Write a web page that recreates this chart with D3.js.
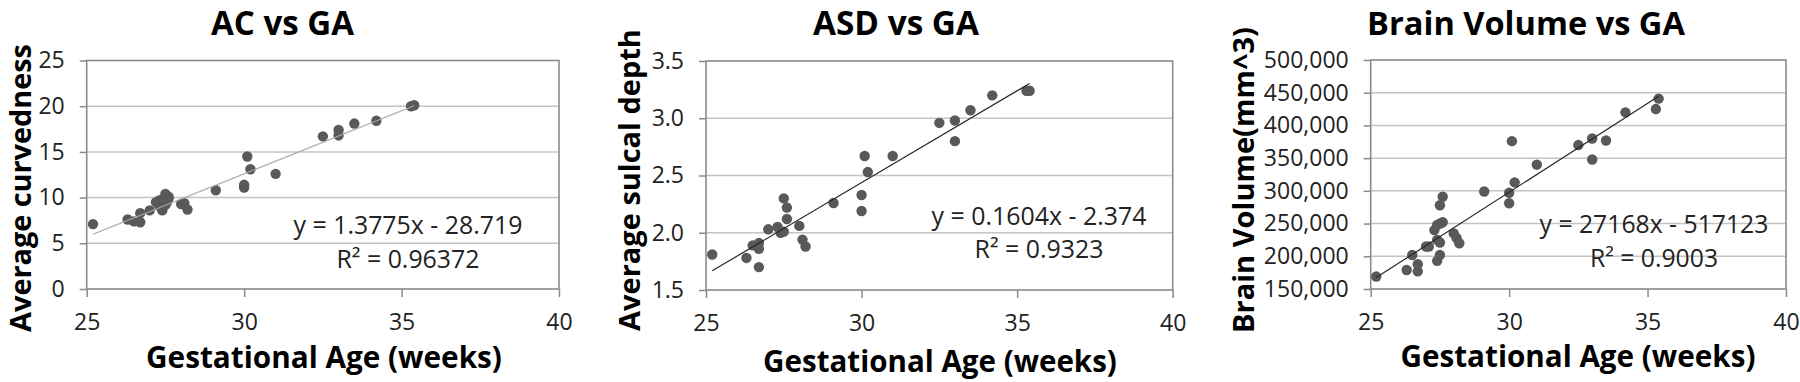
<!DOCTYPE html>
<html><head><meta charset="utf-8">
<script src="https://cdn.jsdelivr.net/npm/d3@7"></script>
<style>
html,body{margin:0;padding:0;background:#fff;}
svg{display:block;}
text{font-family:"Open Sans","Noto Sans",sans-serif;}
</style></head>
<body>
<svg id="c" width="1800" height="382"></svg>
<script>
// ---------- data ----------
const xTickValues = [25, 30, 35, 40];

// Panel 1: Average curvedness vs GA
const acGA  = [25.2, 26.3, 26.5, 26.7, 26.7, 27.0, 27.2, 27.3, 27.3, 27.4, 27.4, 27.5, 27.5, 27.55, 27.6, 27.6, 28.0, 28.1, 28.2, 29.1, 30.0, 30.0, 30.1, 30.2, 31.0, 32.5, 33.0, 33.0, 33.5, 34.2, 35.3, 35.4];
const acVal = [7.1, 7.6, 7.4, 8.3, 7.3, 8.6, 9.5, 9.7, 9.1, 8.6, 9.8, 10.4, 9.2, 9.5, 10.1, 9.9, 9.3, 9.4, 8.7, 10.8, 11.4, 11.1, 14.5, 13.1, 12.6, 16.7, 17.4, 16.8, 18.1, 18.4, 20.0, 20.1];
const acTicks = [0, 5, 10, 15, 20, 25];
const acFit = [1.3775, -28.719];
const acEq = ["y = 1.3775x - 28.719", "R\u00B2 = 0.96372"];

// Panel 2: Average sulcal depth vs GA
const asdGA  = [25.2, 26.3, 26.5, 26.7, 26.7, 26.7, 27.0, 27.3, 27.4, 27.5, 27.5, 27.6, 27.6, 28.0, 28.1, 28.2, 29.1, 30.0, 30.0, 30.1, 30.2, 31.0, 32.5, 33.0, 33.0, 33.5, 34.2, 35.3, 35.4];
const asdVal = [1.81, 1.78, 1.89, 1.91, 1.86, 1.70, 2.03, 2.05, 2.00, 2.01, 2.30, 2.22, 2.12, 2.06, 1.94, 1.88, 2.26, 2.33, 2.19, 2.67, 2.53, 2.67, 2.96, 2.98, 2.80, 3.07, 3.20, 3.24, 3.24];
const asdTicks = [1.5, 2.0, 2.5, 3.0, 3.5];
const asdFit = [0.1604, -2.374];
const asdEq = ["y = 0.1604x - 2.374", "R\u00B2 = 0.9323"];

// Panel 3: Brain volume vs GA
const bvGA  = [25.2, 26.3, 26.5, 26.7, 26.7, 27.0, 27.1, 27.3, 27.4, 27.4, 27.4, 27.5, 27.5, 27.5, 27.5, 27.6, 27.6, 28.0, 28.1, 28.2, 29.1, 30.0, 30.0, 30.1, 30.2, 31.0, 32.5, 33.0, 33.0, 33.5, 34.2, 35.3, 35.4];
const bvVal = [169000, 179000, 202000, 188000, 177000, 215000, 215000, 240000, 248000, 193000, 225000, 278000, 250000, 202000, 221000, 252000, 291000, 235000, 228000, 220000, 299000, 297000, 281000, 376000, 313000, 340000, 370000, 380000, 348000, 377000, 420000, 425000, 441000];
const bvTicks = [150000, 200000, 250000, 300000, 350000, 400000, 450000, 500000];
const bvFit = [27168, -517123];
const bvEq = ["y = 27168x - 517123", "R\u00B2 = 0.9003"];

const titles = ["AC vs GA", "ASD vs GA", "Brain Volume vs GA"];
const yTitles = ["Average curvedness", "Average sulcal depth", "Brain Volume(mm^3)"];
const xTitle = "Gestational Age (weeks)";

// ---------- drawing ----------
const svg = d3.select("#c");
const BORDER = "#8a8a8a", GRID = "#c4c4c4", DOT = "#595959", TXT = "#222";

function fitText(sel, target) {
  const w = sel.node().getComputedTextLength();
  const fs = parseFloat(sel.style("font-size"));
  sel.style("font-size", (fs * target / w) + "px");
}

const panels = [
  {ga: acGA, val: acVal, ticks: acTicks, fit: acFit, eq: acEq, fmt: d3.format("d"), trend: "#a6a6a6", trendW: 1.2,
   l: 86.7, r: 559, t: 60.5, b: 289,
   title: {x: 282.5, y: 35, w: 143}, ytl: {x: 31, y: 188, w: 288}, xtl: {x: 324, y: 368, w: 356},
   eqPos: {x: 408, y1: 234, y2: 268, w: 229}},
  {ga: asdGA, val: asdVal, ticks: asdTicks, fit: asdFit, eq: asdEq, fmt: d3.format(".1f"), trend: "#262626", trendW: 1.2,
   l: 706, r: 1172.7, t: 61, b: 290,
   title: {x: 896, y: 35, w: 166}, ytl: {x: 640, y: 180, w: 302}, xtl: {x: 940, y: 372, w: 354},
   eqPos: {x: 1039, y1: 225, y2: 258, w: 215}},
  {ga: bvGA, val: bvVal, ticks: bvTicks, fit: bvFit, eq: bvEq, fmt: d3.format(","), trend: "#262626", trendW: 1.2,
   l: 1370.7, r: 1786, t: 60, b: 289,
   title: {x: 1526, y: 35, w: 318}, ytl: {x: 1254, y: 180, w: 306}, xtl: {x: 1578, y: 367, w: 355},
   eqPos: {x: 1654, y1: 233, y2: 267, w: 229}}
];

panels.forEach((p, i) => {
  const g = svg.append("g");
  const x = d3.scaleLinear().domain([xTickValues[0], xTickValues[xTickValues.length - 1]]).range([p.l, p.r]);
  const y = d3.scaleLinear().domain(d3.extent(p.ticks)).range([p.b, p.t]);

  // gridlines
  g.append("g").selectAll("line").data(p.ticks.slice(1, -1)).join("line")
    .attr("x1", p.l).attr("x2", p.r).attr("y1", d => y(d)).attr("y2", d => y(d))
    .attr("stroke", GRID).attr("stroke-width", 1.5);

  // axes
  const ya = g.append("g").attr("transform", `translate(${p.l},0)`)
    .call(d3.axisLeft(y).tickValues(p.ticks).tickSize(7).tickPadding(15).tickFormat(p.fmt));
  const xa = g.append("g").attr("transform", `translate(0,${p.b})`)
    .call(d3.axisBottom(x).tickValues(xTickValues).tickSize(8).tickPadding(17).tickFormat(d3.format("d")));
  [ya, xa].forEach(a => {
    a.select(".domain").remove();
    a.selectAll(".tick line").attr("stroke", BORDER).attr("stroke-width", 1.5);
    a.selectAll(".tick text").attr("fill", TXT).style("font-size", "23px")
      .style("font-family", '"Open Sans","Noto Sans",sans-serif');
  });

  // border
  g.append("rect").attr("x", p.l).attr("y", p.t).attr("width", p.r - p.l).attr("height", p.b - p.t)
    .attr("fill", "none").attr("stroke", BORDER).attr("stroke-width", 1.6);

  // points
  const pts = p.ga.map((d, k) => [d, p.val[k]]);
  g.append("g").selectAll("circle").data(pts).join("circle")
    .attr("cx", d => x(d[0])).attr("cy", d => y(d[1])).attr("r", 5.2).attr("fill", DOT);

  // trend line
  const ext = d3.extent(p.ga);
  const line = d3.line().x(d => x(d)).y(d => y(p.fit[0] * d + p.fit[1]));
  g.append("path").datum(ext).attr("d", line).attr("fill", "none")
    .attr("stroke", p.trend).attr("stroke-width", p.trendW);

  // equation text
  const e1 = g.append("text").attr("x", p.eqPos.x).attr("y", p.eqPos.y1).attr("text-anchor", "middle")
    .attr("fill", TXT).style("font-size", "24px").text(p.eq[0]);
  fitText(e1, p.eqPos.w);
  g.append("text").attr("x", p.eqPos.x).attr("y", p.eqPos.y2).attr("text-anchor", "middle")
    .attr("fill", TXT).style("font-size", e1.style("font-size")).text(p.eq[1]);

  // titles
  const tt = g.append("text").attr("x", p.title.x).attr("y", p.title.y).attr("text-anchor", "middle")
    .attr("fill", "#000").style("font-weight", "bold").style("font-size", "32px").text(titles[i]);
  fitText(tt, p.title.w);

  const yt = g.append("text").attr("transform", `translate(${p.ytl.x},${p.ytl.y}) rotate(-90)`)
    .attr("text-anchor", "middle").attr("fill", "#000").style("font-weight", "bold")
    .style("font-size", "28px").text(yTitles[i]);
  fitText(yt, p.ytl.w);

  const xt = g.append("text").attr("x", p.xtl.x).attr("y", p.xtl.y).attr("text-anchor", "middle")
    .attr("fill", "#000").style("font-weight", "bold").style("font-size", "28px").text(xTitle);
  fitText(xt, p.xtl.w);
});
</script>
</body></html>
